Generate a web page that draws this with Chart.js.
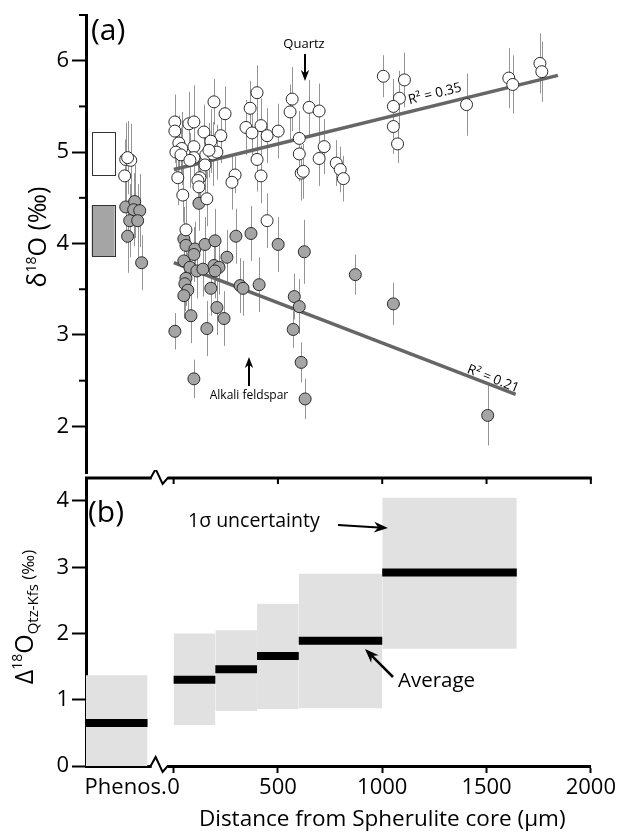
<!DOCTYPE html>
<html>
<head>
<meta charset="utf-8">
<script src="https://cdn.jsdelivr.net/npm/chart.js@4.4.1/dist/chart.umd.min.js"></script>
<style>
body { margin: 0; background: #fff; }
#wrap { position: relative; width: 618px; height: 835px; }
canvas { position: absolute; left: 0; }
</style>
</head>
<body>
<div id="wrap">
  <canvas id="topChart" width="618" height="480" style="top:0px"></canvas>
  <canvas id="botChart" width="618" height="365" style="top:470px"></canvas>
</div>
<script>
var FONT = "'Open Sans', sans-serif";
var OFF_B = 470; // page offset of the lower canvas

// ---- panel (a): d18O vs distance (um) ----
var qtzX = [192,245,5,5,72,96,144,225,177,24, 38,10,34,96,96,77,153,187,206,168,
            149,19,125,115,120,43,158,293,278,58, 446,398,365,566,556,647,695,345,417,374,
            446,499,600,600,719,695,398,417,609,619, 777,796,811,1002,1103,1079,1050,1050,1070,1400,
            1602,1621,1751,1760];
var qtzY = [5.55,5.42,5.33,5.23,5.31,5.33,5.22,5.18,5.12,5.10, 5.04,5.00,4.97,5.06,4.94,4.91,4.97,4.98,5.00,5.02,
            4.86,4.72,4.72,4.69,4.62,4.53,4.49,4.75,4.67,4.15, 4.25,5.65,5.48,5.58,5.44,5.49,5.45,5.27,5.29,5.21,
            5.18,5.23,5.15,4.98,5.06,4.93,4.92,4.74,4.77,4.79, 4.88,4.81,4.71,5.83,5.79,5.59,5.50,5.28,5.09,5.52,
            5.81,5.74,5.97,5.88];
var qtzErr = [0.25,0.3,0.3,0.35,0.35,0.4,0.3,0.3,0.35,0.3, 0.4,0.3,0.3,0.35,0.3,0.3,0.25,0.35,0.3,0.3,
              0.3,0.3,0.25,0.3,0.3,0.3,0.3,0.2,0.3,0.35, 0.3,0.3,0.3,0.35,0.3,0.3,0.3,0.3,0.3,0.3,
              0.3,0.3,0.3,0.3,0.3,0.3,0.35,0.3,0.3,0.3, 0.25,0.25,0.25,0.23,0.3,0.3,0.3,0.3,0.21,0.34,
              0.33,0.32,0.33,0.33];

var kfsX = [120,48,58,101,96,149,197,297,369,499, 624,254,48,77,110,139,192,216,197,58,
            53,67,48,177,317,331,408,576,600,206, 82,240,571,5,158,609,96,628,868,1050,
            1501];
var kfsY = [4.44,4.05,3.98,3.94,3.88,3.99,4.03,4.08,4.11,3.99, 3.91,3.85,3.81,3.74,3.70,3.72,3.76,3.74,3.70,3.62,
            3.56,3.49,3.43,3.51,3.54,3.51,3.55,3.42,3.31,3.30, 3.21,3.18,3.06,3.04,3.07,2.70,2.52,2.30,3.66,3.34,
            2.12];
var kfsErr = [0.3,0.35,0.3,0.3,0.3,0.3,0.35,0.3,0.3,0.3, 0.35,0.3,0.3,0.3,0.3,0.3,0.3,0.3,0.3,0.3,
              0.3,0.3,0.25,0.3,0.3,0.3,0.3,0.25,0.3,0.3, 0.3,0.3,0.2,0.2,0.3,0.22,0.21,0.22,0.22,0.23,
              0.33];

// phenocrysts (plotted left of the break)
var phenoQtzX = [-230,-206,-221,-235];
var phenoQtzY = [4.92,4.91,4.94,4.74];
var phenoQtzErr = [0.4,0.4,0.4,0.4];
var phenoKfsX = [-230,-187,-192,-163,-211,-173,-221,-154];
var phenoKfsY = [4.40,4.46,4.37,4.36,4.25,4.25,4.08,3.79];
var phenoKfsErr = [0.4,0.4,0.4,0.4,0.4,0.4,0.4,0.3];
var phenoBoxX = [-393, -283];
var phenoQtzRange = [4.75, 5.22];
var phenoKfsRange = [3.86, 4.42];

// regression lines
var fitQtzX = [0, 1837];
var fitQtzY = [4.81, 5.84];
var fitKfsX = [0, 1635];
var fitKfsY = [3.79, 2.35];

var yTicksA = [2, 2.5, 3, 3.5, 4, 4.5, 5, 5.5, 6, 6.5];

// ---- panel (b): D18O Qtz-Kfs by distance bin ----
var binStart = [-420, 0, 200, 400, 600, 1000];
var binEnd   = [-125, 200, 400, 600, 1000, 1645];
var diffAvg  = [0.65, 1.30, 1.46, 1.66, 1.89, 2.92];
var diffLow  = [0, 0.62, 0.83, 0.86, 0.87, 1.77];
var diffHigh = [1.37, 2.00, 2.05, 2.45, 2.90, 4.05];

var phenoTick = -230;
var breakAt = -67;
var xTicksB = [phenoTick, 0, 500, 1000, 1500, 2000];
var yTicksB = [0, 1, 2, 3, 4];

function pts(xs, ys) {
  return xs.map(function (x, i) { return {x: x, y: ys[i]}; });
}

function arrow(ctx, x1, y1, x2, y2, w, head) {
  var a = Math.atan2(y2 - y1, x2 - x1);
  var c = Math.cos(a), s = Math.sin(a);
  ctx.beginPath();
  ctx.moveTo(x1, y1);
  ctx.lineTo(x2 - c * head * 0.7, y2 - s * head * 0.7);
  ctx.lineWidth = w;
  ctx.stroke();
  ctx.beginPath();
  ctx.moveTo(x2, y2);
  ctx.lineTo(x2 - head * c + head * 0.38 * s, y2 - head * s - head * 0.38 * c);
  ctx.lineTo(x2 - head * 0.7 * c, y2 - head * 0.7 * s);
  ctx.lineTo(x2 - head * c - head * 0.38 * s, y2 - head * s + head * 0.38 * c);
  ctx.closePath();
  ctx.fill();
}

// vertical rich text (super/subscripts), cx = baseline x, cy = centre
function richText(ctx, cx, cy, parts) {
  ctx.save();
  ctx.translate(cx, cy);
  ctx.rotate(-Math.PI / 2);
  var total = 0;
  parts.forEach(function (p) {
    ctx.font = p.s + 'px ' + FONT;
    p.w = ctx.measureText(p.t).width;
    total += p.w;
  });
  var x = -total / 2;
  ctx.fillStyle = '#000';
  ctx.textBaseline = 'alphabetic';
  ctx.textAlign = 'left';
  parts.forEach(function (p) {
    ctx.font = p.s + 'px ' + FONT;
    ctx.fillText(p.t, x, p.dy || 0);
    x += p.w;
  });
  ctx.restore();
}

function rotText(ctx, txt, x, y, deg, size) {
  ctx.save();
  ctx.translate(x, y);
  ctx.rotate(deg * Math.PI / 180);
  ctx.font = size + 'px ' + FONT;
  ctx.textAlign = 'center';
  ctx.textBaseline = 'middle';
  ctx.fillText(txt, 0, 0);
  ctx.restore();
}

function axisBreak(ctx, cx, y) {
  ctx.save();
  ctx.fillStyle = '#fff';
  ctx.fillRect(cx - 8, y - 3, 16, 6);
  ctx.strokeStyle = '#000';
  ctx.lineWidth = 2;
  ctx.lineJoin = 'miter';
  ctx.beginPath();
  ctx.moveTo(cx - 9, y);
  ctx.lineTo(cx - 4, y - 9);
  ctx.lineTo(cx + 3, y + 6);
  ctx.lineTo(cx + 8, y);
  ctx.lineTo(cx + 10, y);
  ctx.stroke();
  ctx.restore();
}

// drop the label-overflow padding Chart.js adds at the ends of an axis
function noEndPad(s) {
  s.paddingTop = 0;
  s.paddingBottom = 0;
}

var panelA = {
  id: 'panelA',
  beforeDatasetsDraw: function (chart) {
    var ctx = chart.ctx, xs = chart.scales.x, ys = chart.scales.y;
    ctx.save();
    // phenocryst range boxes
    var bx0 = xs.getPixelForValue(phenoBoxX[0]), bx1 = xs.getPixelForValue(phenoBoxX[1]);
    [[phenoQtzRange, '#ffffff'], [phenoKfsRange, '#a5a5a5']].forEach(function (b) {
      var y0 = ys.getPixelForValue(b[0][1]), y1 = ys.getPixelForValue(b[0][0]);
      ctx.fillStyle = b[1];
      ctx.fillRect(bx0, y0, bx1 - bx0, y1 - y0);
      ctx.strokeStyle = '#333';
      ctx.lineWidth = 1;
      ctx.strokeRect(Math.round(bx0) + 0.5, Math.round(y0) + 0.5, Math.round(bx1 - bx0), Math.round(y1 - y0));
    });
    // error bars
    ctx.strokeStyle = '#959595';
    ctx.lineWidth = 1;
    chart.data.datasets.forEach(function (ds) {
      if (!ds.errors) return;
      ds.data.forEach(function (p, i) {
        var px = Math.round(xs.getPixelForValue(p.x)) + 0.5;
        ctx.beginPath();
        ctx.moveTo(px, ys.getPixelForValue(p.y + ds.errors[i]));
        ctx.lineTo(px, ys.getPixelForValue(p.y - ds.errors[i]));
        ctx.stroke();
      });
    });
    ctx.restore();
  },
  afterDraw: function (chart) {
    var ctx = chart.ctx, ys = chart.scales.y, left = chart.chartArea.left;
    ctx.save();
    // minor ticks
    ctx.strokeStyle = '#000';
    ctx.lineWidth = 2;
    yTicksA.forEach(function (v) {
      if (v % 1 === 0) return;
      var py = ys.getPixelForValue(v);
      ctx.beginPath();
      ctx.moveTo(left - 7, py);
      ctx.lineTo(left, py);
      ctx.stroke();
    });
    ctx.fillStyle = '#000';
    ctx.strokeStyle = '#000';
    ctx.font = '30px ' + FONT;
    ctx.textAlign = 'left';
    ctx.textBaseline = 'middle';
    ctx.fillText('(a)', 91, 31);
    ctx.font = '13px ' + FONT;
    ctx.textAlign = 'center';
    ctx.fillText('Quartz', 304, 44);
    arrow(ctx, 305, 54, 305, 81, 2, 11);
    ctx.font = '12px ' + FONT;
    ctx.fillText('Alkali feldspar', 249, 396);
    arrow(ctx, 249, 386, 249, 357, 2, 11);
    rotText(ctx, 'R\u00b2 = 0.35', 435, 94, -14, 13.5);
    rotText(ctx, 'R\u00b2 = 0.21', 493, 379, 21.5, 13.5);
    richText(ctx, 46, 237, [
      {t: '\u03b4', s: 25},
      {t: '18', s: 14, dy: -10},
      {t: 'O (\u2030)', s: 25}
    ]);
    ctx.restore();
  }
};

var panelB = {
  id: 'panelB',
  afterDraw: function (chart) {
    var ctx = chart.ctx, xs = chart.scales.x, a = chart.chartArea;
    ctx.save();
    ctx.strokeStyle = '#000';
    ctx.fillStyle = '#000';
    // top axis line of panel (b)
    ctx.lineWidth = 3;
    ctx.beginPath();
    ctx.moveTo(a.left - 1, a.top);
    ctx.lineTo(a.right + 1, a.top);
    ctx.stroke();
    ctx.lineWidth = 2;
    xTicksB.forEach(function (v) {
      if (v === phenoTick) return;
      var px = xs.getPixelForValue(v);
      ctx.beginPath();
      ctx.moveTo(px, a.top);
      ctx.lineTo(px, a.top + 6);
      ctx.stroke();
    });
    var bx = xs.getPixelForValue(breakAt);
    axisBreak(ctx, bx, a.top);
    axisBreak(ctx, bx, a.bottom);
    // x axis title, centred on the 0-2000 part of the axis
    ctx.font = '22.5px ' + FONT;
    ctx.textAlign = 'center';
    ctx.textBaseline = 'middle';
    ctx.fillText('Distance from Spherulite core (\u03bcm)', (xs.getPixelForValue(0) + a.right) / 2, 820 - OFF_B);
    // labels (page coordinates shifted into this canvas)
    ctx.translate(0, -OFF_B);
    ctx.font = '30px ' + FONT;
    ctx.textAlign = 'left';
    ctx.fillText('(b)', 88, 513);
    ctx.font = '19.5px ' + FONT;
    ctx.fillText('1\u03c3 uncertainty', 188, 521);
    arrow(ctx, 338, 525, 388, 528, 2, 14);
    ctx.font = '20.5px ' + FONT;
    ctx.fillText('Average', 398, 681);
    arrow(ctx, 393, 677, 365, 649, 2.5, 14);
    richText(ctx, 33, 617, [
      {t: '\u0394', s: 25},
      {t: '18', s: 14, dy: -11},
      {t: 'O', s: 25},
      {t: 'Qtz-Kfs', s: 15, dy: 5},
      {t: ' (\u2030)', s: 17, dy: 1}
    ]);
    ctx.restore();
  }
};

Chart.defaults.font.family = FONT;
Chart.defaults.color = '#000';

var ptStyle = {borderColor: '#2a2a2a', borderWidth: 1, pointRadius: 6, pointHoverRadius: 6};

new Chart(document.getElementById('topChart'), {
  type: 'scatter',
  data: {
    datasets: [
      Object.assign({label: 'Quartz', data: pts(qtzX, qtzY), errors: qtzErr, backgroundColor: '#ffffff', order: 1}, ptStyle),
      Object.assign({label: 'Quartz phenos', data: pts(phenoQtzX, phenoQtzY), errors: phenoQtzErr, backgroundColor: '#ffffff', order: 1}, ptStyle),
      Object.assign({label: 'Alkali feldspar', data: pts(kfsX, kfsY), errors: kfsErr, backgroundColor: '#a5a5a5', order: 2}, ptStyle),
      Object.assign({label: 'Kfs phenos', data: pts(phenoKfsX, phenoKfsY), errors: phenoKfsErr, backgroundColor: '#a5a5a5', order: 2}, ptStyle),
      {type: 'line', label: 'Qtz fit', data: pts(fitQtzX, fitQtzY), borderColor: '#666666', borderWidth: 3.5,
       pointRadius: 0, fill: false, order: 5},
      {type: 'line', label: 'Kfs fit', data: pts(fitKfsX, fitKfsY), borderColor: '#666666', borderWidth: 3.5,
       pointRadius: 0, fill: false, order: 5}
    ]
  },
  options: {
    responsive: false,
    animation: false,
    devicePixelRatio: 1,
    layout: {padding: {top: 15, bottom: 2, left: 0, right: 26}},
    plugins: {legend: {display: false}, tooltip: {enabled: false}},
    scales: {
      x: {type: 'linear', min: -420, max: 2000, display: false},
      y: {
        min: 1.49, max: 6.5,
        afterFit: function (s) { s.width = 86; noEndPad(s); },
        afterBuildTicks: function (s) { s.ticks = yTicksA.map(function (v) { return {value: v}; }); },
        ticks: {
          font: {size: 22}, color: '#000', padding: 3,
          callback: function (v) { return v % 1 === 0 ? v : ''; }
        },
        grid: {
          drawOnChartArea: false, tickLength: 14, tickWidth: 2,
          tickColor: function (c) { return c.tick && c.tick.value % 1 === 0 ? '#000' : 'rgba(0,0,0,0)'; }
        },
        border: {width: 3, color: '#000'}
      }
    }
  },
  plugins: [panelA]
});

var bDatasets = [];
binStart.forEach(function (x0, i) {
  bDatasets.push({
    type: 'line', label: 'avg ' + i, data: pts([x0, binEnd[i]], [diffAvg[i], diffAvg[i]]),
    borderColor: '#000', borderWidth: 8, borderCapStyle: 'butt', pointRadius: 0, fill: false, order: 0
  });
  bDatasets.push({
    type: 'line', label: 'sigma ' + i, data: pts([x0, binEnd[i]], [diffHigh[i], diffHigh[i]]),
    borderColor: 'rgba(0,0,0,0)', borderWidth: 0, pointRadius: 0,
    backgroundColor: '#e1e1e1', fill: {value: diffLow[i]}, order: 3
  });
});

new Chart(document.getElementById('botChart'), {
  type: 'scatter',
  data: {datasets: bDatasets},
  options: {
    responsive: false,
    animation: false,
    devicePixelRatio: 1,
    layout: {padding: {top: 8, bottom: 0, left: 0, right: 26}},
    plugins: {legend: {display: false}, tooltip: {enabled: false}},
    scales: {
      x: {
        type: 'linear', min: -420, max: 2000,
        afterFit: function (s) { s.height = 69; },
        afterBuildTicks: function (s) { s.ticks = xTicksB.map(function (v) { return {value: v}; }); },
        ticks: {
          autoSkip: false, maxRotation: 0, font: {size: 22}, color: '#000', padding: 2,
          callback: function (v) { return v === phenoTick ? 'Phenos.' : v; }
        },
        grid: {
          drawOnChartArea: false, tickLength: 7, tickWidth: 2,
          tickColor: function (c) { return c.tick && c.tick.value === phenoTick ? 'rgba(0,0,0,0)' : '#000'; }
        },
        border: {width: 3, color: '#000'}
      },
      y: {
        min: 0, max: 4.347,
        afterFit: function (s) { s.width = 86; noEndPad(s); },
        afterBuildTicks: function (s) { s.ticks = yTicksB.map(function (v) { return {value: v}; }); },
        ticks: {font: {size: 22}, color: '#000', padding: 3},
        grid: {drawOnChartArea: false, tickLength: 14, tickWidth: 2, tickColor: '#000'},
        border: {width: 3, color: '#000'}
      }
    }
  },
  plugins: [panelB]
});
</script>
</body>
</html>
